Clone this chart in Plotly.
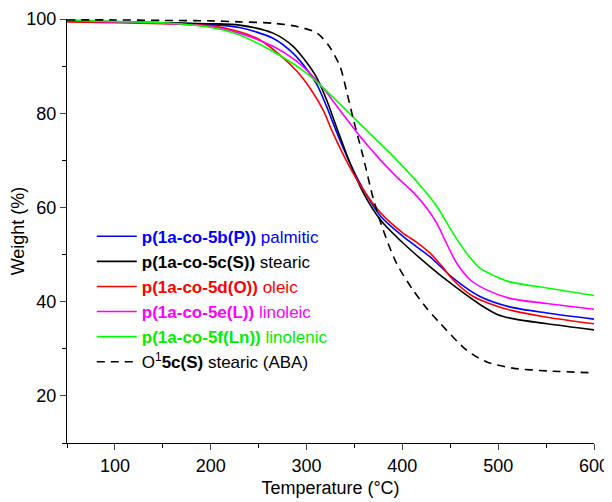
import plotly.graph_objects as go

# ---- data ----
t_palmitic = [50, 100, 150, 200, 230, 265, 286, 300, 311, 321, 333, 349, 359, 377, 401, 429, 453, 481, 512, 551, 600]
w_palmitic = [99.6, 99.4, 99.2, 98.8, 98.2, 95.9, 92.7, 89.4, 86.0, 81.4, 75.2, 67.8, 63.9, 58.2, 53.8, 49.5, 45.0, 41.1, 38.9, 37.6, 36.3]

t_stearic = [50, 100, 150, 200, 230, 265, 286, 300, 311, 321, 331, 345, 359, 377, 401, 429, 453, 481, 499, 515, 551, 600]
w_stearic = [99.6, 99.4, 99.2, 99.0, 98.7, 97.0, 94.2, 90.8, 87.4, 82.8, 77.2, 69.6, 63.2, 57.4, 52.4, 47.4, 43.5, 39.4, 37.3, 36.4, 35.3, 34.0]

t_oleic = [50, 100, 150, 200, 230, 251, 272, 290, 304, 317, 328, 345, 359, 377, 401, 415, 429, 441, 453, 474, 498, 515, 551, 600]
w_oleic = [99.4, 99.2, 99.0, 98.6, 97.3, 95.6, 92.4, 88.9, 85.2, 80.8, 75.6, 68.6, 63.8, 58.9, 54.5, 52.6, 50.3, 47.6, 44.6, 41.1, 39.1, 38.1, 36.7, 35.3]

t_linoleic = [50, 100, 150, 200, 230, 265, 286, 300, 317, 335, 359, 377, 394, 411, 425, 436, 446, 457, 471, 488, 512, 551, 600]
w_linoleic = [99.7, 99.4, 99.1, 98.4, 97.0, 94.2, 91.6, 89.2, 85.4, 80.6, 74.3, 70.1, 66.5, 63.3, 60.0, 56.6, 52.4, 48.1, 44.6, 42.5, 40.7, 39.6, 38.4]

t_linolenic = [50, 100, 150, 200, 230, 265, 300, 325, 359, 394, 418, 436, 453, 467, 481, 498, 512, 551, 600]
w_linolenic = [99.8, 99.5, 99.2, 98.2, 96.6, 93.1, 88.5, 83.9, 77.1, 70.1, 64.8, 60.2, 54.5, 50.3, 47.1, 45.3, 44.2, 42.9, 41.3]

t_aba = [50, 100, 150, 200, 230, 265, 290, 311, 324, 335, 342, 349, 359, 370, 380, 394, 411, 425, 439, 467, 488, 515, 551, 600]
w_aba = [99.8, 99.8, 99.7, 99.6, 99.4, 99.1, 98.4, 97.0, 94.1, 89.9, 84.5, 78.6, 70.8, 61.6, 55.2, 48.1, 42.5, 38.7, 35.5, 29.7, 27.2, 25.9, 25.3, 24.9]

names = [
    "<span style='color:#0000ff'><b>p(1a-co-5b(P))</b> palmitic</span>",
    "<span style='color:#000000'><b>p(1a-co-5c(S))</b> stearic</span>",
    "<span style='color:#ff0000'><b>p(1a-co-5d(O))</b> oleic</span>",
    "<span style='color:#ff00ff'><b>p(1a-co-5e(L))</b> linoleic</span>",
    "<span style='color:#00ee00'><b>p(1a-co-5f(Ln))</b> linolenic</span>",
    "<span style='color:#000000'>O<sup>1</sup><b>5c(S)</b> stearic (ABA)</span>",
]
colors = ["#0000ff", "#000000", "#ff0000", "#ff00ff", "#00ff00", "#000000"]
series = [(t_palmitic, w_palmitic), (t_stearic, w_stearic), (t_oleic, w_oleic),
          (t_linoleic, w_linoleic), (t_linolenic, w_linolenic), (t_aba, w_aba)]

FONT = "Arial, Liberation Sans, sans-serif"

fig = go.Figure()
for i, ((t, w), nm, c) in enumerate(zip(series, names, colors)):
    fig.add_trace(go.Scatter(
        x=t, y=w, name=nm, mode="lines",
        line=dict(color=c, width=1.6, shape="spline", smoothing=0.8,
                  dash="8px,6px" if i == 5 else "solid"),
    ))

# the page body adds an 8px offset, so the figure is 8px smaller and margins shifted
fig.update_layout(
    width=604, height=494,
    margin=dict(l=59, r=18, t=11, b=59),
    paper_bgcolor="white", plot_bgcolor="white",
    font=dict(family=FONT, size=18, color="black"),
    showlegend=True,
    legend=dict(x=0.047, y=0.529, xanchor="left", yanchor="top",
                bgcolor="rgba(0,0,0,0)", borderwidth=0,
                font=dict(family=FONT, size=17), itemwidth=40,
                tracegroupgap=0),
    xaxis=dict(range=[50, 600], tick0=0, dtick=100, ticks="outside", ticklen=6,
               tickwidth=1.3, showline=True, linecolor="black", linewidth=1.3,
               showgrid=False, zeroline=False, automargin=False,
               minor=dict(dtick=50, ticks="outside", ticklen=4, tickwidth=1.3, tickcolor="black"),
               title=dict(text="Temperature (°C)", standoff=6, font=dict(size=18)),
               tickfont=dict(size=18)),
    yaxis=dict(range=[10, 100], tick0=0, dtick=20, ticks="outside", ticklen=6,
               tickwidth=1.3, showline=True, linecolor="black", linewidth=1.3,
               showgrid=False, zeroline=False, automargin=False,
               minor=dict(dtick=10, ticks="outside", ticklen=4, tickwidth=1.3, tickcolor="black"),
               title=dict(text="Weight (%)", standoff=8, font=dict(size=18)),
               tickfont=dict(size=18)),
)

fig.write_html("out.html")
